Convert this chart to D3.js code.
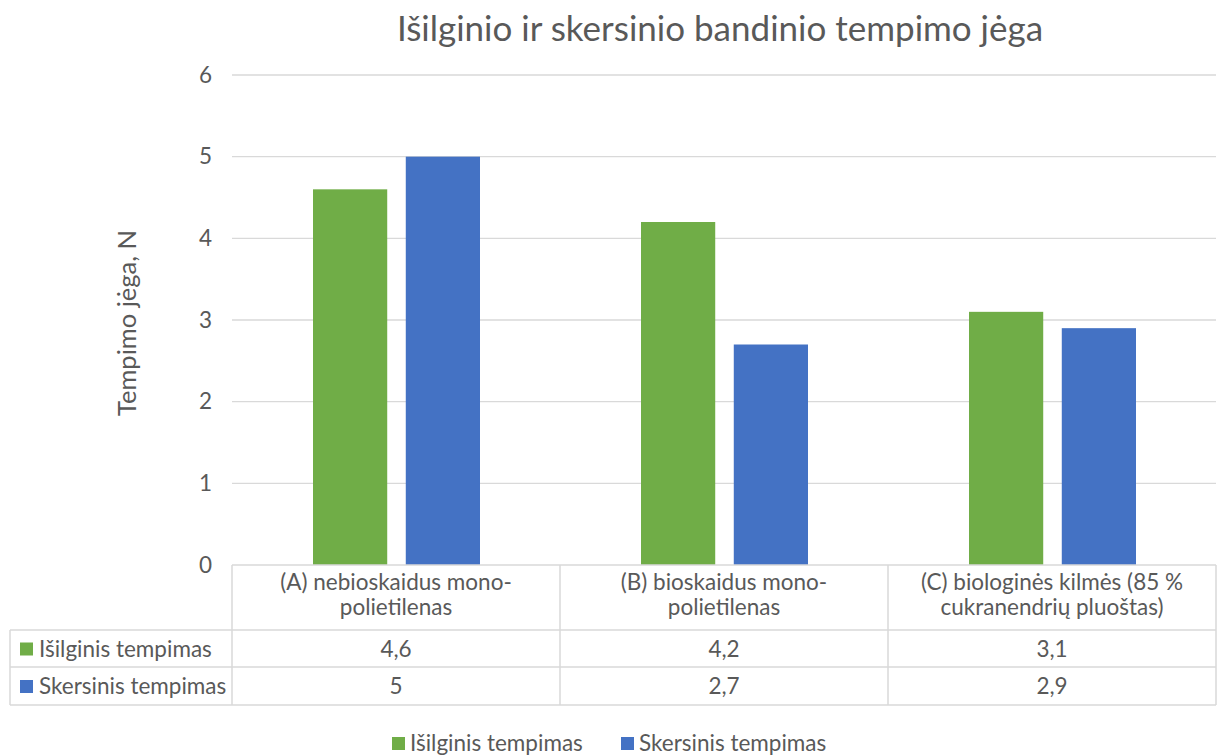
<!DOCTYPE html>
<html>
<head>
<meta charset="utf-8">
<script src="https://cdn.jsdelivr.net/npm/d3@7"></script>
<style>
  html, body { margin: 0; padding: 0; background: #fff; }
  svg { display: block; font-family: Lato, "Noto Sans", sans-serif; }
</style>
</head>
<body>
<svg id="chart" width="1218" height="756"></svg>
<script>
// Chart data
const categories = [
  ["(A) nebioskaidus mono-", "polietilenas"],
  ["(B) bioskaidus mono-", "polietilenas"],
  ["(C) biologinės kilmės (85 %", "cukranendrių pluoštas)"]
];
const categoryKeys = ["A", "B", "C"];
const seriesNames = ["Išilginis tempimas", "Skersinis tempimas"];
const isilginis = [4.6, 4.2, 3.1];
const skersinis = [5, 2.7, 2.9];
const yTicks = [0, 1, 2, 3, 4, 5, 6];
const colors = ["#70AD47", "#4472C4"];

const seriesValues = [isilginis, skersinis];
const fmt = v => String(v).replace(".", ",");

const svg = d3.select("#chart");
const textColor = "#595959";
const gridColor = "#D9D9D9";
const fontSize = "22.5px";

const plot = { left: 232, right: 1216, top: 75, bottom: 565 };
const tableLeft = 10;
const rowBottoms = [630, 667, 705];

const x0 = d3.scaleBand().domain(categoryKeys).range([plot.left, plot.right]);
const x1 = d3.scaleBand().domain(seriesNames).range([81, 248]).paddingInner(0.2);
const y = d3.scaleLinear().domain([0, 6]).range([plot.bottom, plot.top]);

// Title
svg.append("text")
  .attr("x", 720).attr("y", 41)
  .attr("text-anchor", "middle")
  .attr("fill", textColor)
  .style("font-size", "35px")
  .text("Išilginio ir skersinio bandinio tempimo jėga");

// Gridlines
svg.append("g").selectAll("line").data(yTicks.filter(t => t > 0)).join("line")
  .attr("x1", plot.left).attr("x2", plot.right)
  .attr("y1", d => y(d)).attr("y2", d => y(d))
  .attr("stroke", gridColor).attr("stroke-width", 1.3);

// Y axis labels
const yAxis = d3.axisLeft(y).tickValues(yTicks).tickFormat(d3.format("d")).tickSize(0).tickPadding(20);
const yg = svg.append("g").attr("transform", `translate(${plot.left},0)`).call(yAxis);
yg.select(".domain").remove();
yg.selectAll("text").attr("fill", textColor).style("font-size", fontSize)
  .style("font-family", "Lato, 'Noto Sans', sans-serif");

// Y axis title
svg.append("text")
  .attr("transform", `translate(136,323) rotate(-90)`)
  .attr("text-anchor", "middle")
  .attr("fill", textColor)
  .style("font-size", "25.5px")
  .text("Tempimo jėga, N");

// Bars
const groups = svg.append("g").selectAll("g").data(categoryKeys).join("g")
  .attr("transform", d => `translate(${x0(d)},0)`);
groups.selectAll("rect")
  .data((d, i) => seriesNames.map((s, j) => ({ s, v: seriesValues[j][i], c: colors[j] })))
  .join("rect")
  .attr("x", d => x1(d.s))
  .attr("width", x1.bandwidth())
  .attr("y", d => y(d.v))
  .attr("height", d => y(0) - y(d.v))
  .attr("fill", d => d.c);

// Data table
const tbl = svg.append("g").attr("stroke", gridColor).attr("stroke-width", 1.5).attr("fill", "none");
tbl.append("line").attr("x1", plot.left).attr("x2", plot.right).attr("y1", plot.bottom).attr("y2", plot.bottom);
rowBottoms.forEach(rb => {
  tbl.append("line").attr("x1", tableLeft).attr("x2", plot.right).attr("y1", rb).attr("y2", rb);
});
categoryKeys.map(k => x0(k)).concat([plot.right]).forEach(xv => {
  tbl.append("line").attr("x1", xv).attr("x2", xv).attr("y1", plot.bottom).attr("y2", rowBottoms[2]);
});
tbl.append("line").attr("x1", tableLeft).attr("x2", tableLeft).attr("y1", rowBottoms[0]).attr("y2", rowBottoms[2]);

// Category labels in header row
categoryKeys.forEach((k, i) => {
  const cx = x0(k) + x0.bandwidth() / 2;
  const t = svg.append("text")
    .attr("text-anchor", "middle")
    .attr("fill", textColor)
    .style("font-size", fontSize);
  categories[i].forEach((line, li) => {
    t.append("tspan").attr("x", cx).attr("y", 590 + li * 25).text(line);
  });
});

// Table rows
seriesNames.forEach((name, j) => {
  const top = rowBottoms[j];
  const bottom = rowBottoms[j + 1];
  const mid = (top + bottom) / 2;
  svg.append("rect")
    .attr("x", 20).attr("y", mid - 6).attr("width", 13).attr("height", 13)
    .attr("fill", colors[j]);
  svg.append("text")
    .attr("x", 39).attr("y", mid + 8)
    .attr("fill", textColor)
    .style("font-size", fontSize)
    .text(name);
  categoryKeys.forEach((k, i) => {
    svg.append("text")
      .attr("x", x0(k) + x0.bandwidth() / 2).attr("y", mid + 8)
      .attr("text-anchor", "middle")
      .attr("fill", textColor)
      .style("font-size", fontSize)
      .text(fmt(seriesValues[j][i]));
  });
});

// Legend
const legendItems = [
  { name: seriesNames[0], c: colors[0], x: 392 },
  { name: seriesNames[1], c: colors[1], x: 621 }
];
legendItems.forEach(d => {
  svg.append("rect").attr("x", d.x).attr("y", 737).attr("width", 13).attr("height", 13).attr("fill", d.c);
  svg.append("text").attr("x", d.x + 18).attr("y", 751)
    .attr("fill", textColor).style("font-size", fontSize).text(d.name);
});
</script>
</body>
</html>
